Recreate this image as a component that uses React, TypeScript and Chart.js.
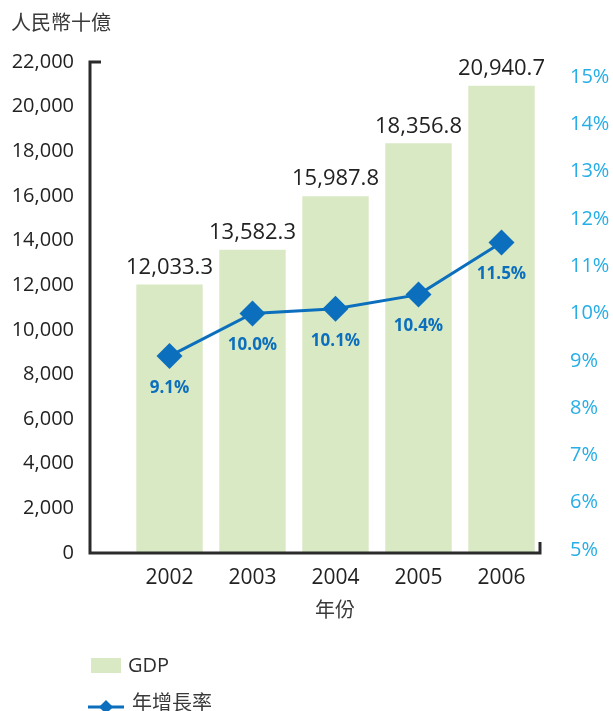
import React, { useEffect, useRef } from "react";
import { Chart, registerables } from "chart.js";

Chart.register(...registerables);

const years = ["2002", "2003", "2004", "2005", "2006"];
const gdpValues = [12033.3, 13582.3, 15987.8, 18356.8, 20940.7];
const gdpLabels = ["12,033.3", "13,582.3", "15,987.8", "18,356.8", "20,940.7"];
const growthValues = [9.1, 10.0, 10.1, 10.4, 11.5];
const growthLabels = ["9.1%", "10.0%", "10.1%", "10.4%", "11.5%"];
const leftTicks = [0, 2000, 4000, 6000, 8000, 10000, 12000, 14000, 16000, 18000, 20000, 22000];
const rightTicks = [5, 6, 7, 8, 9, 10, 11, 12, 13, 14, 15];

const FONT = '"Open Sans", "Noto Sans CJK TC", sans-serif';
const CJK = '"Noto Sans CJK TC", "Open Sans", sans-serif';
const BAR_COLOR = "#d9e9c4";
const LINE_COLOR = "#0b6fbd";
const RIGHT_COLOR = "#27aee6";
const TEXT_COLOR = "#222222";
const AXIS_COLOR = "#2b2b2b";

const fmt = (v: number) => v.toLocaleString("en-US");

const overlayPlugin = {
  id: "overlay",
  afterDatasetsDraw(chart: any) {
    const ctx = chart.ctx as CanvasRenderingContext2D;
    const yS = chart.scales.y;
    const y1S = chart.scales.y1;
    const xS = chart.scales.x;
    const top = yS.getPixelForValue(22000);
    const bottom = yS.getPixelForValue(0);
    ctx.save();

    // axes
    ctx.strokeStyle = AXIS_COLOR;
    ctx.lineWidth = 3;
    ctx.lineCap = "butt";
    ctx.beginPath();
    ctx.moveTo(101, top);
    ctx.lineTo(90, top);
    ctx.lineTo(90, bottom);
    ctx.lineTo(540, bottom);
    ctx.lineTo(540, bottom - 11);
    ctx.stroke();

    // title
    ctx.fillStyle = "#3a3a3a";
    ctx.font = `20px ${CJK}`;
    ctx.textAlign = "left";
    ctx.textBaseline = "middle";
    ctx.fillText("人民幣十億", 11, 22);

    // left ticks
    ctx.fillStyle = TEXT_COLOR;
    ctx.font = `20px ${FONT}`;
    ctx.textAlign = "right";
    leftTicks.forEach((v) => {
      ctx.fillText(fmt(v), 74, yS.getPixelForValue(v));
    });

    // right ticks
    ctx.fillStyle = RIGHT_COLOR;
    ctx.font = `20px ${FONT}`;
    ctx.textAlign = "left";
    rightTicks.forEach((v) => {
      ctx.fillText(`${v}%`, 570, y1S.getPixelForValue(v));
    });

    // x labels
    ctx.fillStyle = TEXT_COLOR;
    ctx.font = `21px ${FONT}`;
    ctx.textAlign = "center";
    years.forEach((yr, i) => {
      ctx.fillText(yr, xS.getPixelForValue(i), 578);
    });

    // x title
    ctx.fillStyle = "#3a3a3a";
    ctx.font = `20px ${CJK}`;
    ctx.fillText("年份", 335, 609);

    // bar value labels
    ctx.fillStyle = TEXT_COLOR;
    ctx.font = `22px ${FONT}`;
    gdpValues.forEach((v, i) => {
      ctx.fillText(gdpLabels[i], xS.getPixelForValue(i), yS.getPixelForValue(v) - 17);
    });

    // line labels
    ctx.fillStyle = LINE_COLOR;
    ctx.font = `bold 17px ${FONT}`;
    growthValues.forEach((v, i) => {
      ctx.fillText(growthLabels[i], xS.getPixelForValue(i), y1S.getPixelForValue(v) + 32);
    });

    // legend
    ctx.fillStyle = BAR_COLOR;
    ctx.fillRect(91, 658, 30, 15);
    ctx.fillStyle = "#2f2f2f";
    ctx.font = `20px ${FONT}`;
    ctx.textAlign = "left";
    ctx.fillText("GDP", 128, 666);

    ctx.strokeStyle = LINE_COLOR;
    ctx.lineWidth = 3;
    ctx.beginPath();
    ctx.moveTo(88, 707);
    ctx.lineTo(124, 707);
    ctx.stroke();
    ctx.fillStyle = LINE_COLOR;
    ctx.beginPath();
    ctx.moveTo(106, 700);
    ctx.lineTo(113, 707);
    ctx.lineTo(106, 714);
    ctx.lineTo(99, 707);
    ctx.closePath();
    ctx.fill();
    ctx.fillStyle = "#3a3a3a";
    ctx.font = `20px ${CJK}`;
    ctx.fillText("年增長率", 132, 702);

    ctx.restore();
  },
};

export default function App() {
  const canvasRef = useRef<HTMLCanvasElement | null>(null);

  useEffect(() => {
    if (!canvasRef.current) return;
    const chart = new Chart(canvasRef.current, {
      type: "bar",
      data: {
        labels: years,
        datasets: [
          {
            type: "line",
            label: "年增長率",
            data: growthValues,
            yAxisID: "y1",
            borderColor: LINE_COLOR,
            backgroundColor: LINE_COLOR,
            borderWidth: 3,
            pointStyle: "rectRot",
            pointRadius: 13,
            pointHoverRadius: 13,
            pointBackgroundColor: LINE_COLOR,
            pointBorderWidth: 0,
            tension: 0,
            order: 0,
          } as any,
          {
            type: "bar",
            label: "GDP",
            data: gdpValues,
            yAxisID: "y",
            backgroundColor: BAR_COLOR,
            borderWidth: 0,
            categoryPercentage: 1,
            barPercentage: 0.8,
            order: 1,
          },
        ],
      },
      options: {
        animation: false,
        responsive: true,
        maintainAspectRatio: false,
        layout: { padding: { left: 128, right: 70, top: 62, bottom: 158 } },
        plugins: { legend: { display: false }, tooltip: { enabled: false } },
        scales: {
          x: { display: false, offset: true },
          y: { display: false, min: 0, max: 22000 },
          y1: { display: false, min: 4.937, max: 15.318, position: "right" },
        },
      },
      plugins: [overlayPlugin],
    });
    return () => chart.destroy();
  }, []);

  return (
    <div style={{ position: "fixed", left: 0, top: 0, width: 613, height: 711, background: "#fff" }}>
      <canvas ref={canvasRef} />
    </div>
  );
}
